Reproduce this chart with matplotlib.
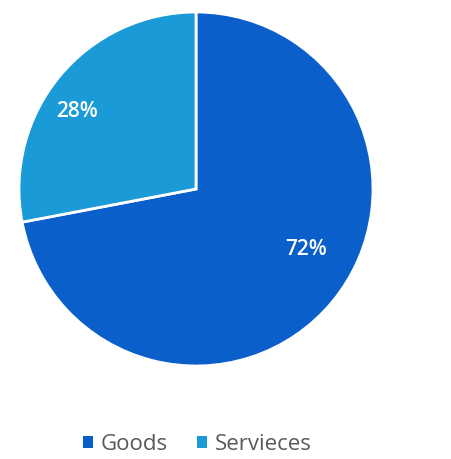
import matplotlib.pyplot as plt
from matplotlib.patches import Patch

# dados
categorias = ['Goods', 'Servieces']
valores = [72, 28]
rotulos = ['72%', '28%']
cores = ['#0b5fcb', '#1b9ad8']

fig = plt.figure(figsize=(4.52, 4.59), dpi=100)
ax = fig.add_axes([19 / 452, 93 / 459, 354 / 452, 354 / 459])

# pizza começando no topo, sentido horário
ax.pie(valores, colors=cores, startangle=90, counterclock=False,
       wedgeprops={'edgecolor': 'white', 'linewidth': 2})
ax.set_xlim(-1, 1)
ax.set_ylim(-1, 1)
ax.set_aspect('auto')

# rótulos de porcentagem
ax.text(0.62, -0.34, rotulos[0], color='white', fontsize=15,
        family='Open Sans', weight='semibold', ha='center', va='center')
ax.text(-0.67, 0.44, rotulos[1], color='white', fontsize=15,
        family='Open Sans', weight='semibold', ha='center', va='center')

# legenda
handles = [Patch(facecolor=c, edgecolor='none') for c in cores]
fig.legend(handles, categorias, loc='center', bbox_to_anchor=(197 / 452, 1 - 444 / 459),
           ncol=2, frameon=False, handlelength=0.45, handleheight=0.45,
           handletextpad=0.35, columnspacing=1.3,
           prop={'family': 'Open Sans', 'size': 16}, labelcolor='#595959')

fig.savefig('out.png', dpi=100)
